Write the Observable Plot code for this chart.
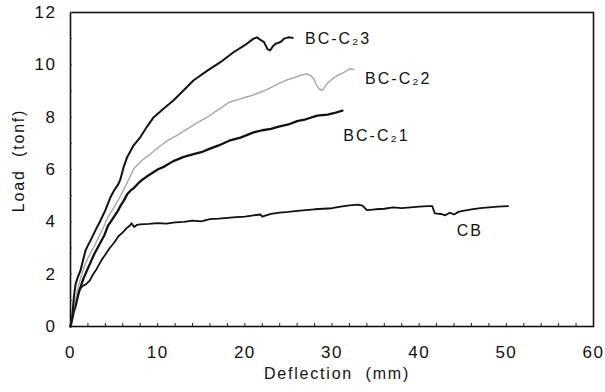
<!DOCTYPE html>
<html><head><meta charset="utf-8">
<script src="https://cdn.jsdelivr.net/npm/d3@7"></script>
<script src="https://cdn.jsdelivr.net/npm/@observablehq/plot@0.6"></script>
<style>
body{margin:0;background:#fff;}
svg{font-family:"Liberation Sans",Arial,sans-serif;}
.ticklab text{letter-spacing:1.5px;}
.title text{letter-spacing:1.8px;white-space:pre;}
.curvelab text{letter-spacing:2px;}
</style></head>
<body><div id="chart"></div>
<script>
const cb = [[0,0],[0.3,0.55],[0.6,1.0],[1.0,1.4],[1.4,1.55],[1.8,1.62],[2.2,1.75],[2.6,2.0],[3.0,2.2],[3.5,2.5],[4.0,2.75],[4.5,3.0],[5.0,3.2],[5.5,3.45],[6.0,3.6],[6.4,3.75],[6.8,3.85],[7.0,3.95],[7.3,3.8],[7.6,3.88],[8,3.9],[9,3.92],[10,3.95],[11,3.93],[12,3.98],[13,4.0],[14,4.05],[15,4.02],[16,4.1],[17,4.12],[18,4.15],[19,4.18],[20,4.2],[21,4.25],[21.8,4.28],[22,4.2],[23,4.3],[24,4.35],[25,4.38],[26,4.42],[27,4.45],[28,4.48],[29,4.5],[30,4.52],[31,4.58],[32,4.63],[33,4.66],[33.5,4.62],[34,4.45],[35,4.48],[36,4.5],[37,4.55],[38,4.52],[39,4.55],[40,4.58],[41,4.6],[41.5,4.6],[41.8,4.32],[42.5,4.3],[43,4.25],[43.5,4.35],[44,4.28],[44.5,4.38],[45,4.42],[46,4.48],[47,4.52],[48,4.55],[49,4.58],[50.2,4.6]];
const c21 = [[0,0],[0.2,0.3],[0.4,0.6],[0.6,0.8],[0.8,1.1],[1.0,1.35],[1.2,1.55],[1.5,1.85],[1.9,2.15],[2.3,2.45],[2.7,2.75],[3.1,3.0],[3.5,3.25],[3.9,3.5],[4.3,3.85],[4.7,4.05],[5.0,4.2],[5.4,4.4],[5.8,4.65],[6.1,4.8],[6.5,5.05],[6.9,5.2],[7.3,5.3],[7.7,5.45],[8.2,5.6],[8.7,5.72],[9.2,5.83],[10,6.0],[10.8,6.12],[11.8,6.32],[13,6.48],[14,6.58],[15,6.66],[16,6.8],[17,6.92],[18.2,7.1],[19.5,7.22],[21,7.42],[22,7.5],[23,7.55],[24,7.65],[25,7.72],[26,7.85],[27,7.92],[28.3,8.06],[29.5,8.1],[30.2,8.15],[31.2,8.25]];
const c22 = [[0,0],[0.2,0.4],[0.4,0.8],[0.7,1.25],[0.95,1.6],[1.3,2.0],[1.7,2.4],[2.2,2.75],[2.7,3.05],[3.2,3.4],[3.8,3.8],[4.3,4.2],[4.9,4.5],[5.5,4.85],[6.2,5.3],[6.8,5.7],[7.3,6.05],[8.2,6.35],[9.2,6.6],[10.1,6.85],[11.1,7.1],[12.2,7.3],[13.4,7.55],[14.5,7.78],[15.7,8.0],[17,8.3],[18.2,8.57],[19.5,8.7],[21,8.85],[22.5,9.05],[24,9.3],[24.8,9.42],[25.6,9.5],[26.4,9.6],[27.1,9.66],[27.6,9.58],[27.9,9.46],[28.2,9.25],[28.5,9.08],[28.9,9.02],[29.4,9.27],[30,9.45],[30.6,9.59],[31.3,9.7],[32.1,9.85],[32.5,9.82]];
const c23 = [[0,0],[0.2,0.36],[0.38,1.1],[0.57,1.6],[0.85,1.9],[1.15,2.14],[1.45,2.55],[1.72,2.9],[2.0,3.1],[2.3,3.29],[2.9,3.7],[3.44,4.05],[4.0,4.45],[4.6,4.95],[5.0,5.2],[5.5,5.45],[5.7,5.6],[6.1,6.1],[6.5,6.47],[7.2,6.9],[8.0,7.23],[8.8,7.65],[9.55,8.0],[10.6,8.3],[11.8,8.64],[12.9,9.0],[14.1,9.4],[15.7,9.78],[17.2,10.1],[18.7,10.48],[20.0,10.75],[21.0,11.0],[21.4,11.05],[21.8,10.95],[22.2,10.87],[22.6,10.6],[22.9,10.55],[23.2,10.7],[23.5,10.8],[24.1,10.87],[24.5,11.0],[25.0,11.05],[25.5,11.03]];
const labelText = ["BC-C₂3","BC-C₂2","BC-C₂1","CB"];
const labelX = [26.9,33.8,31.3,44.3];
const labelY = [11.0,9.48,7.3,3.67];
const xTicks = [0,10,20,30,40,50,60];
const yTicks = [0,2,4,6,8,10,12];

const labels = labelText.map((t,i)=>({t,x:labelX[i],y:labelY[i]}));
const plot = Plot.plot({
  width:605, height:392,
  marginLeft:70, marginRight:12, marginTop:12, marginBottom:66,
  style:{fontSize:"16px", fontFamily:"'Liberation Sans',Arial,sans-serif", color:"#111", background:"#fff"},
  x:{domain:[0,60]},
  y:{domain:[0,12]},
  marks:[
    Plot.frame({stroke:"#111", strokeWidth:1.6}),
    Plot.axisX({ticks:d3.range(0,61,2), tickSize:-3, tickFormat:()=>"", stroke:"#222", label:null}),
    Plot.axisY({ticks:d3.range(0,13,1), tickSize:-2, tickFormat:()=>"", stroke:"#444", label:null}),
    Plot.axisX({ticks:xTicks, tickSize:0, tickPadding:19, fontSize:17, label:null, className:"ticklab"}),
    Plot.axisY({ticks:yTicks, tickSize:0, tickPadding:14, fontSize:17, label:null, className:"ticklab"}),
    Plot.text(["Deflection  (mm)"], {frameAnchor:"bottom", dy:52, dx:5, fontSize:16, className:"title"}),
    Plot.text(["Load  (tonf)"], {frameAnchor:"left", textAnchor:"middle", dx:-52, dy:-9, rotate:-90, fontSize:16, className:"title"}),
    Plot.line(cb, {x:d=>d[0], y:d=>d[1], stroke:"#111", strokeWidth:1.8}),
    Plot.line(c21, {x:d=>d[0], y:d=>d[1], stroke:"#111", strokeWidth:2.3}),
    Plot.line(c22, {x:d=>d[0], y:d=>d[1], stroke:"#a8a8a8", strokeWidth:1.5, strokeDasharray:"1.2,0.8"}),
    Plot.line(c23, {x:d=>d[0], y:d=>d[1], stroke:"#111", strokeWidth:2}),
    Plot.text(labels, {x:"x", y:"y", text:"t", textAnchor:"start", fontSize:16, fill:"#111", className:"curvelab"})
  ]
});
document.getElementById("chart").appendChild(plot);
</script>
</body></html>
